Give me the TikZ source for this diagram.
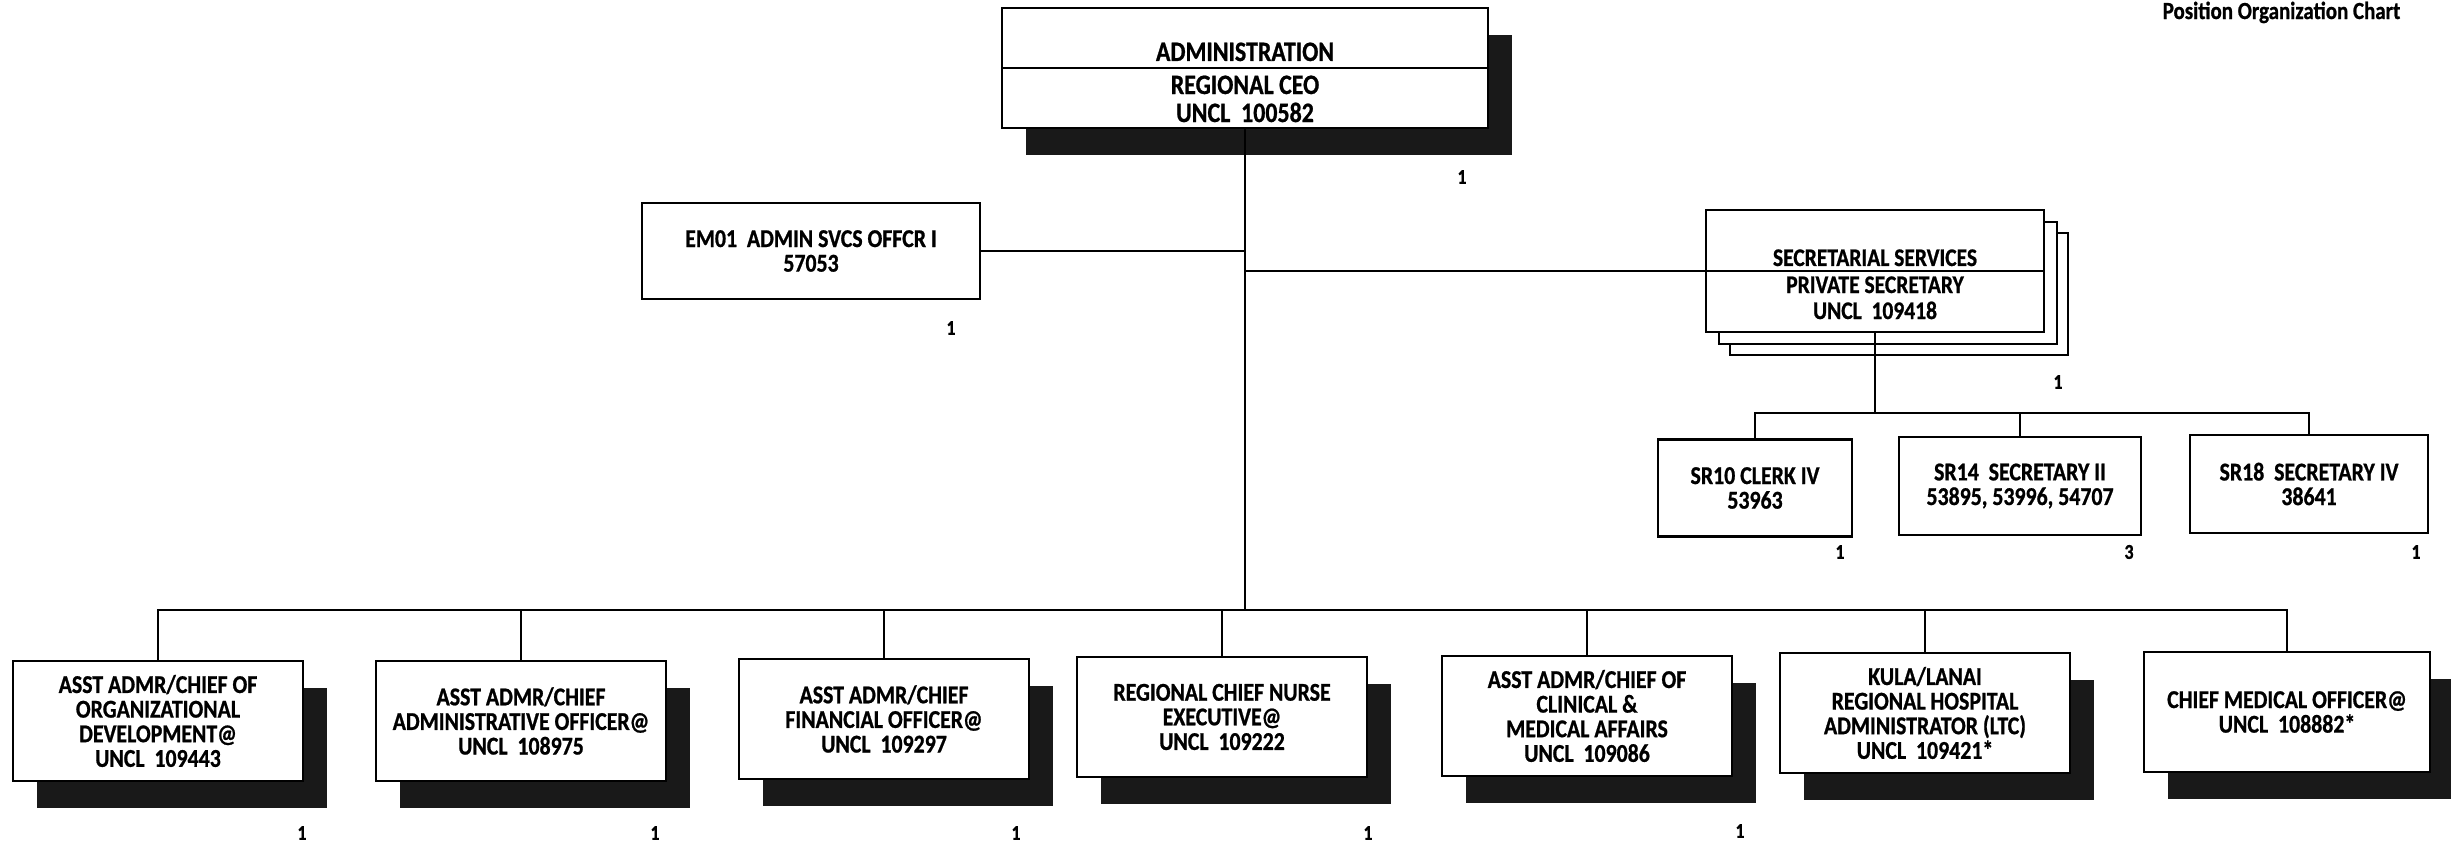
\documentclass[tikz,border=0pt]{standalone}
\usepackage{fontspec}
\setmainfont{Carlito}[FakeStretch=0.85,BoldFont={Carlito Bold},BoldFeatures={FakeBold=0.8}]
\usetikzlibrary{positioning,shadows}
\tikzset{
  posbox/.style={draw,rectangle,line width=0.6pt,fill=white,align=center,inner sep=1pt,minimum width=2.9cm,minimum height=1.2cm,font=\fontsize{7.3}{7}\selectfont\bfseries},
  shdbox/.style={posbox,drop shadow={shadow xshift=0.24cm,shadow yshift=-0.27cm,fill=black!90,opacity=1}},
  stackbox/.style={posbox,copy shadow={shadow xshift=0.24cm,shadow yshift=-0.23cm},copy shadow={shadow xshift=0.13cm,shadow yshift=-0.12cm}},
  toptxt/.style={font=\fontsize{8}{8}\selectfont\bfseries,inner sep=0pt},
  sectxt/.style={font=\fontsize{7.2}{7}\selectfont\bfseries,inner sep=0pt},
  cnt/.style={font=\fontsize{6}{6}\selectfont\bfseries,inner sep=0pt},
  ttl/.style={font=\fontsize{7}{7}\selectfont\bfseries,inner sep=0pt},
  link/.style={line width=0.55pt}
}

\begin{document}
\begin{tikzpicture}[x=0.01cm,y=-0.01cm]
  \useasboundingbox (0,0) rectangle (2451,843);
  % Title
  \node[ttl,anchor=north east] (title) at (2401,1) {Position Organization Chart};

  % Administration
  \node[shdbox,minimum width=4.85cm,minimum height=1.2cm] (ceo) at (1245,68) {};
  \draw[link] (ceo.west) -- (ceo.east);
  \node[toptxt,anchor=base] (ceoa) at ([yshift=0.07cm]ceo.center) {ADMINISTRATION};
  \node[toptxt,anchor=base] (ceob) at ([yshift=-0.26cm]ceo.center) {REGIONAL CEO};
  \node[toptxt,anchor=base] (ceoc) at ([yshift=-0.54cm]ceo.center) {UNCL~~100582};
  \node[cnt] (nceo) at (1462,177) {1};

  % Staff positions
  \node[posbox,minimum width=3.38cm,minimum height=0.96cm] (em) at (811,251) {EM01~~ADMIN SVCS OFFCR I\\57053};
  \node[cnt] (nem) at (951,328) {1};

  \node[stackbox,minimum width=3.38cm,minimum height=1.22cm] (sec) at (1875,271) {};
  \draw[link] (sec.west) -- (sec.east);
  \node[sectxt,anchor=base] (seca) at ([yshift=0.05cm]sec.center) {SECRETARIAL SERVICES};
  \node[sectxt,anchor=base] (secb) at ([yshift=-0.22cm]sec.center) {PRIVATE SECRETARY};
  \node[sectxt,anchor=base] (secc) at ([yshift=-0.48cm]sec.center) {UNCL~~109418};
  \node[cnt] (nsec) at (2058,382) {1};

  % Secretarial staff
  \node[posbox,minimum width=1.94cm,minimum height=0.97cm] (clerk) at (1755,488) {SR10 CLERK IV\\53963};
  \node[posbox,minimum width=2.42cm,minimum height=0.98cm] (secii) at (2020,486) {SR14~~SECRETARY II\\53895, 53996, 54707};
  \node[posbox,minimum width=2.38cm,minimum height=0.98cm] (seciv) at (2309,484) {SR18~~SECRETARY IV\\38641};
  \node[cnt] (nclerk) at (1840,552) {1};
  \node[cnt] (nsecii) at (2129,552) {3};
  \node[cnt] (nseciv) at (2416,552) {1};

  % Assistant administrators
  \node[shdbox] (orgdev) at (158,721) {ASST ADMR/CHIEF OF\\ORGANIZATIONAL\\DEVELOPMENT@\\UNCL~~109443};
  \node[shdbox] (admoff) at (521,721) {ASST ADMR/CHIEF\\ADMINISTRATIVE OFFICER@\\UNCL~~108975};
  \node[shdbox] (finoff) at (884,719) {ASST ADMR/CHIEF\\FINANCIAL OFFICER@\\UNCL~~109297};
  \node[shdbox] (nurse) at (1222,717) {REGIONAL CHIEF NURSE\\EXECUTIVE@\\UNCL~~109222};
  \node[shdbox] (clinic) at (1587,716) {ASST ADMR/CHIEF OF\\CLINICAL \&\\MEDICAL AFFAIRS\\UNCL~~109086};
  \node[shdbox] (kula) at (1925,713) {KULA/LANAI\\REGIONAL HOSPITAL\\ADMINISTRATOR (LTC)\\UNCL~~109421*};
  \node[shdbox,minimum width=2.85cm] (cmo) at (2287,712) {CHIEF MEDICAL OFFICER@\\UNCL~~108882*};
  \node[cnt] (norgdev) at (302,833) {1};
  \node[cnt] (nadmoff) at (655,833) {1};
  \node[cnt] (nfinoff) at (1016,833) {1};
  \node[cnt] (nnurse) at (1368,833) {1};
  \node[cnt] (nclinic) at (1740,831) {1};

  % Connections
  \coordinate (bus) at (1245,610);
  \coordinate (subbus) at (1875,413);
  \draw[link] (ceo.south) -- (bus);
  \draw[link] (em.east) -- (em.east -| bus);
  \draw[link] (sec.west) -- (sec.west -| bus);
  \foreach \b in {orgdev,admoff,finoff,nurse,clinic,kula,cmo}
    \draw[link] (bus) -| (\b.north);
  \draw[link] (sec.south) -- (subbus);
  \foreach \s in {clerk,secii,seciv}
    \draw[link] (subbus) -| (\s.north);
\end{tikzpicture}
\end{document}
